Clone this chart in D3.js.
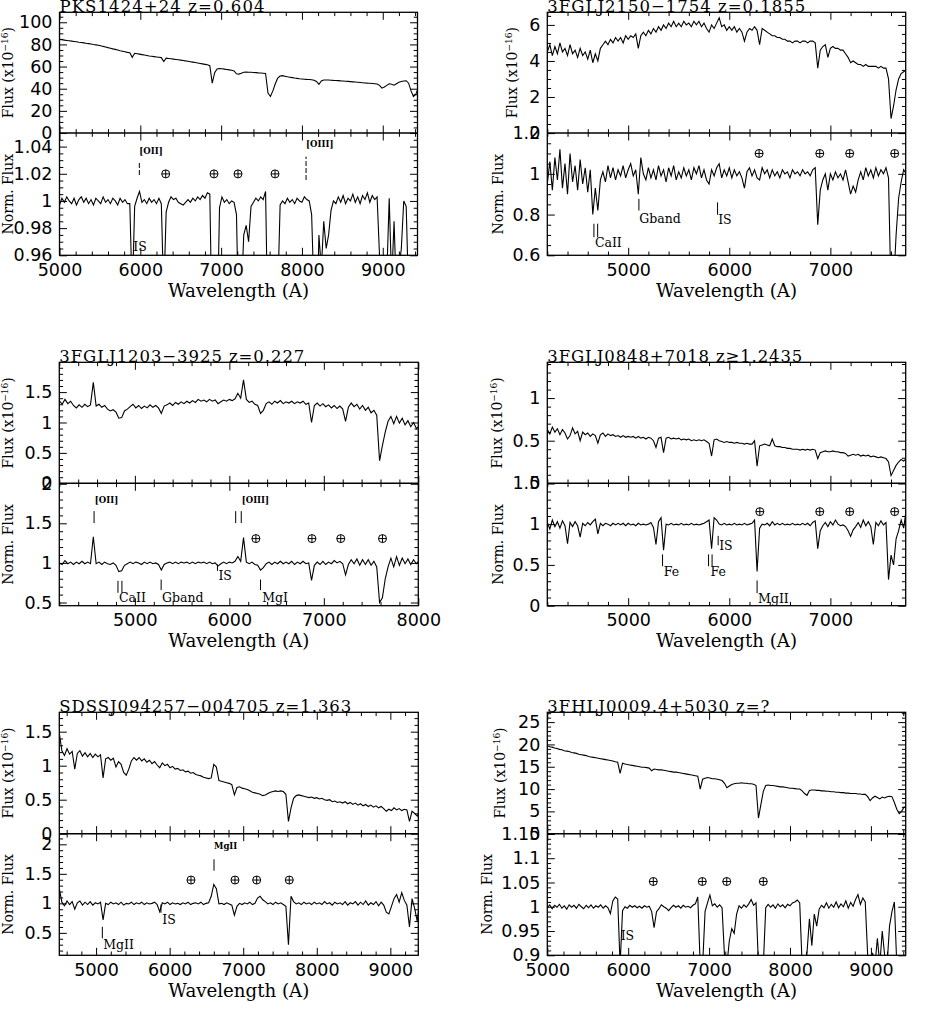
<!DOCTYPE html>
<html><head><meta charset="utf-8">
<script src="https://cdn.jsdelivr.net/npm/d3@7"></script>
<style>body{margin:0;background:#fff}svg{display:block}</style>
</head><body>
<svg id="chart" width="926" height="1010"></svg>
<script>
// ---------------- DATA ----------------
const p1Title = "PKS1424+24 z=0.604";
const p1Wave0 = 5000, p1Step = 30;
const p1Flux = [84.5,84.2,83.9,83.6,83.3,83.0,82.7,82.4,82.0,81.7,
81.4,81.0,80.7,80.3,79.9,79.6,79.2,78.8,78.2,77.7,
77.1,76.6,76.0,75.5,74.9,74.3,73.8,73.3,72.8,72.5,
68.3,72.0,71.6,71.2,70.8,70.4,70.0,69.6,69.3,69.0,
68.7,68.4,68.1,64.5,67.6,67.3,67.0,66.7,66.4,66.1,
65.8,65.5,65.1,64.8,64.4,64.0,63.6,63.2,62.8,62.4,
62.0,61.6,60.8,45.0,54.5,57.8,58.3,58.0,57.7,57.4,
57.0,56.6,56.0,53.5,53.2,54.0,54.8,55.0,54.9,54.8,
54.6,54.5,54.3,54.2,54.0,53.8,36.0,33.0,38.0,44.5,
49.5,51.5,51.8,51.3,50.8,50.4,50.0,49.6,49.3,49.0,
48.8,48.6,48.4,48.3,48.1,47.6,46.5,44.0,47.0,47.8,
47.9,47.8,47.7,47.5,47.4,47.3,47.1,47.0,46.8,46.6,
46.4,46.2,46.0,45.8,45.6,45.4,45.2,45.0,44.9,44.7,
44.5,44.2,43.0,40.5,41.5,43.0,44.5,44.0,43.2,44.5,
45.8,46.5,47.0,47.2,45.0,38.0,33.0,35.0,41.0];
const p1Norm = [0.997,1.002,0.999,1.003,1.000,0.998,1.002,0.997,1.001,1.003,
0.999,1.002,0.998,1.001,0.997,1.002,1.000,0.998,1.003,0.999,
1.001,0.998,1.002,1.000,0.997,1.002,0.999,1.001,0.998,0.998,
0.930,0.996,1.002,1.007,0.999,1.001,0.998,1.002,0.999,1.001,
0.998,1.002,0.998,0.930,0.992,0.999,1.003,1.001,1.002,0.999,
0.998,0.997,0.999,1.001,0.999,1.002,1.000,1.003,1.001,1.004,
1.002,1.006,1.005,0.900,0.900,0.900,0.995,1.003,0.999,1.001,
0.998,1.000,0.999,0.990,0.900,0.930,0.975,0.982,0.970,0.996,
0.999,1.002,1.000,1.003,1.001,1.007,0.900,0.900,0.900,0.900,
0.930,0.997,1.000,0.998,1.002,0.999,1.001,0.998,1.002,1.000,
0.999,1.003,1.001,1.000,0.990,0.930,0.900,0.975,0.950,0.985,
0.965,0.975,0.993,1.000,0.998,1.003,0.999,1.004,0.998,1.002,
1.000,1.005,0.999,1.003,0.998,1.004,1.001,1.006,0.999,1.004,
1.001,1.003,0.960,0.920,0.900,0.945,1.002,0.940,0.985,0.930,
0.950,0.965,1.000,0.996,0.930,0.900,0.900,0.900,0.900];
const p1Earth = [6314, 6912, 7209, 7667], p1EarthLevel = 1.0199;
const p1Marks = [
 {label:"[OII]", waves:[5988], y0:1.0191, y1:1.0282, lw:5988, ly:1.0346, small:true},
 {label:"[OIII]", waves:[8051], y0:1.0154, y1:1.0326, lw:8051, ly:1.0400, small:true},
 {label:"IS", waves:[], lw:5913, ly:0.963}];

const p2Title = "3FGLJ2150\u22121754 z=0.1855";
const p2Wave0 = 4200, p2Step = 25;
const p2Flux = [4.5,4.9,4.3,4.8,4.4,5.0,4.5,4.7,4.3,4.9,
4.4,4.6,4.2,4.7,4.3,4.5,4.1,4.6,3.9,4.4,
4.0,4.7,4.9,5.1,4.9,5.2,5.0,5.3,5.1,5.3,
5.0,5.4,5.2,5.4,5.3,5.5,4.7,5.4,5.6,5.4,
5.7,5.5,5.8,5.6,5.9,5.7,6.0,5.8,6.1,5.9,
6.2,5.9,6.1,5.9,6.2,6.0,6.1,5.9,6.2,6.0,
6.2,5.9,6.1,5.8,5.6,6.0,5.8,6.1,6.4,5.9,
6.0,5.7,5.9,5.7,5.9,5.6,5.8,5.6,5.1,5.6,
5.8,5.7,5.9,5.7,4.9,5.8,5.7,5.6,5.5,5.4,
5.4,5.3,5.3,5.2,5.2,5.1,5.1,5.0,5.1,5.1,
5.0,5.1,5.1,5.0,5.1,5.1,5.0,3.6,4.6,4.8,
4.9,4.2,4.7,4.8,4.7,4.7,4.6,4.6,4.4,4.2,
3.9,4.0,3.9,3.8,3.8,3.7,3.8,3.7,3.7,3.7,
3.7,3.6,3.7,3.6,3.6,3.0,0.8,1.5,2.4,3.0,
3.3,3.4,3.5];
const p2Norm = [0.95,1.06,0.92,1.08,0.97,1.12,0.93,1.05,0.90,1.10,
0.96,1.04,0.92,1.07,0.95,1.03,0.91,1.02,0.80,0.93,
0.82,0.97,1.01,0.96,1.04,0.98,1.03,0.97,1.02,0.99,
1.04,0.98,1.02,1.05,0.99,1.02,0.90,1.08,1.00,0.97,
1.03,0.98,1.02,0.97,1.04,0.99,1.02,0.96,1.03,0.99,
1.04,0.97,1.01,0.98,1.03,0.99,1.02,0.97,1.03,1.00,
1.04,0.98,1.02,0.97,0.95,1.02,0.99,1.03,1.05,0.98,
1.02,0.99,1.03,0.98,1.02,0.99,1.01,0.98,0.93,1.01,
1.03,0.99,1.02,0.98,0.97,1.03,1.00,1.02,0.98,1.02,
0.99,1.01,0.98,1.02,1.00,1.01,0.98,1.02,1.00,1.01,
0.99,1.02,1.00,1.01,0.99,1.02,1.03,0.75,0.92,0.97,
1.00,0.92,1.00,0.97,1.01,0.98,1.00,0.97,1.02,0.96,
0.90,0.94,0.91,0.97,1.01,0.97,1.03,0.99,1.02,0.98,
1.03,0.99,1.02,1.00,1.03,0.98,0.40,0.45,0.70,0.88,
0.96,1.02,1.00];
const p2Earth = [6295, 6895, 7191, 7636], p2EarthLevel = 1.10;
const p2Marks = [
 {label:"CaII", waves:[4661,4698], y0:0.689, y1:0.755, lw:4671, ly:0.642},
 {label:"Gband", waves:[5106], y0:0.820, y1:0.877, lw:5109, ly:0.761},
 {label:"IS", waves:[5884], y0:0.799, y1:0.860, lw:5890, ly:0.755}];

const p3Title = "3FGLJ1203\u22123925 z=0.227";
const p3Wave0 = 4200, p3Step = 30;
const p3Flux = [1.36,1.30,1.38,1.31,1.35,1.28,1.24,1.29,1.25,1.30,
1.26,1.29,1.66,1.27,1.30,1.25,1.28,1.22,1.19,1.21,
1.17,1.07,1.08,1.19,1.22,1.26,1.30,1.24,1.28,1.23,
1.27,1.24,1.29,1.25,1.28,1.24,1.15,1.27,1.29,1.32,
1.28,1.33,1.30,1.34,1.31,1.35,1.32,1.36,1.33,1.38,
1.35,1.37,1.34,1.38,1.35,1.37,1.31,1.34,1.37,1.35,
1.38,1.36,1.39,1.48,1.40,1.70,1.38,1.33,1.35,1.30,
1.28,1.15,1.20,1.31,1.34,1.30,1.35,1.32,1.36,1.31,
1.34,1.32,1.35,1.31,1.34,1.32,1.35,1.30,1.32,1.00,
1.28,1.32,1.27,1.31,1.26,1.29,1.24,1.28,1.23,1.27,
1.22,1.02,1.25,1.32,1.26,1.30,1.22,1.28,1.20,1.25,
1.16,1.20,1.12,0.37,0.62,0.84,1.02,1.10,0.98,1.10,
0.99,1.07,0.96,1.03,0.93,1.00,0.90,0.95];
const p3Norm = [1.00,0.98,1.03,0.99,1.01,0.98,1.01,0.99,1.02,0.99,
1.01,0.99,1.33,0.99,1.01,0.98,1.01,0.99,0.98,1.00,
0.97,0.89,0.90,0.97,0.99,1.01,0.99,1.01,1.00,0.98,
1.01,0.99,1.01,0.99,1.00,0.98,0.91,0.98,1.00,1.01,
0.99,1.01,0.99,1.01,1.00,1.01,0.99,1.01,0.99,1.01,
1.00,1.01,0.99,1.01,0.99,1.00,0.96,0.99,1.01,0.99,
1.01,1.00,1.02,1.08,1.02,1.32,1.01,0.99,1.01,0.98,
0.97,0.91,0.94,0.99,1.01,0.98,1.01,0.99,1.02,0.99,
1.01,0.99,1.02,0.98,1.01,0.99,1.02,0.99,1.00,0.78,
0.97,1.01,0.98,1.02,0.98,1.01,0.99,1.03,1.00,1.02,
0.99,0.85,0.98,1.04,0.99,1.05,0.97,1.04,0.98,1.04,
0.97,1.02,0.95,0.50,0.56,0.80,0.95,1.06,0.95,1.08,
0.97,1.06,0.99,1.05,0.98,1.04,0.99,1.03];
const p3Earth = [6281, 6874, 7179, 7621], p3EarthLevel = 1.307;
const p3Marks = [
 {label:"[OII]", waves:[4568], y0:1.503, y1:1.654, lw:4576, ly:1.755, small:true},
 {label:"[OIII]", waves:[6067,6126], y0:1.503, y1:1.654, lw:6131, ly:1.755, small:true},
 {label:"CaII", waves:[4821,4863], y0:0.623, y1:0.774, lw:4832, ly:0.509},
 {label:"Gband", waves:[5278], y0:0.657, y1:0.790, lw:5288, ly:0.509},
 {label:"IS", waves:[5874], y0:0.90, y1:0.98, lw:5884, ly:0.782},
 {label:"MgI", waves:[6330], y0:0.657, y1:0.790, lw:6347, ly:0.509}];

const p4Title = "3FGLJ0848+7018 z\u22651.2435";
const p4Wave0 = 4200, p4Step = 25;
const p4Flux = [0.63,0.58,0.66,0.60,0.64,0.57,0.63,0.59,0.52,0.56,
0.65,0.58,0.61,0.50,0.60,0.57,0.59,0.55,0.58,0.56,
0.47,0.57,0.59,0.55,0.58,0.56,0.57,0.55,0.56,0.54,
0.56,0.54,0.55,0.54,0.55,0.53,0.55,0.53,0.54,0.52,
0.54,0.53,0.50,0.42,0.53,0.54,0.36,0.53,0.54,0.52,
0.53,0.52,0.53,0.51,0.52,0.51,0.52,0.50,0.51,0.50,
0.51,0.50,0.51,0.49,0.47,0.32,0.51,0.52,0.50,0.49,
0.48,0.49,0.48,0.48,0.47,0.48,0.47,0.47,0.46,0.47,
0.46,0.46,0.50,0.20,0.44,0.45,0.46,0.45,0.44,0.52,
0.44,0.43,0.43,0.42,0.42,0.41,0.41,0.40,0.40,0.40,
0.39,0.40,0.39,0.40,0.39,0.40,0.39,0.29,0.36,0.37,
0.38,0.37,0.37,0.38,0.37,0.37,0.36,0.36,0.35,0.32,
0.33,0.34,0.33,0.34,0.32,0.33,0.32,0.33,0.31,0.32,
0.31,0.30,0.31,0.30,0.29,0.25,0.09,0.15,0.21,0.25,
0.28,0.26,0.29];
const p4Norm = [1.02,0.94,1.05,0.97,1.03,0.95,1.04,0.98,0.76,1.02,
0.97,1.03,0.98,0.84,1.01,0.98,1.02,0.99,1.03,1.06,
0.88,1.01,0.98,1.01,1.00,0.98,1.01,0.99,1.01,0.99,
1.01,0.98,1.01,0.99,1.00,0.98,1.01,0.99,1.00,0.99,
1.00,1.02,0.96,0.75,1.03,1.08,0.68,1.00,0.99,1.01,
0.99,1.00,0.99,1.01,0.99,1.00,0.99,1.01,0.99,1.00,
0.99,1.00,1.01,1.03,1.05,0.70,1.08,1.05,1.00,0.99,
1.01,0.99,1.00,0.99,1.01,0.99,1.00,0.99,1.01,0.99,
1.00,1.01,1.05,0.42,0.95,1.00,0.99,1.01,0.98,1.03,
0.99,1.01,0.99,1.01,0.99,1.00,0.99,1.01,0.99,1.00,
0.99,1.01,0.99,1.01,0.98,1.02,1.04,0.70,0.92,0.98,
1.02,0.97,1.03,0.99,1.05,1.00,0.98,0.99,0.97,0.92,
0.85,0.93,0.97,1.02,0.96,1.05,0.98,1.03,0.97,0.75,
1.02,0.98,1.04,0.99,1.02,0.32,0.62,0.50,0.82,0.92,
1.05,0.95,1.18];
const p4Earth = [6302, 6895, 7191, 7636], p4EarthLevel = 1.153;
const p4Marks = [
 {label:"Fe", waves:[5340], y0:0.484, y1:0.629, lw:5353, ly:0.368},
 {label:"Fe", waves:[5795,5830], y0:0.484, y1:0.629, lw:5815, ly:0.368},
 {label:"IS", waves:[5890], y0:0.741, y1:0.856, lw:5900, ly:0.682},
 {label:"MgII", waves:[6275], y0:0.154, y1:0.310, lw:6285, ly:0.03}];

const p5Title = "SDSSJ094257\u2212004705 z=1.363";
const p5Wave0 = 4500, p5Step = 35;
const p5Flux = [1.48,1.22,1.15,1.25,1.17,1.21,0.95,1.18,1.22,1.14,
1.19,1.13,1.18,1.12,1.17,1.13,1.16,0.82,1.10,1.12,
1.08,1.11,0.98,1.06,1.02,0.90,0.86,0.95,1.07,1.12,
1.08,1.12,1.07,1.10,1.05,1.08,1.03,1.06,1.01,0.97,
1.04,1.00,1.02,0.97,0.99,0.95,0.96,0.93,0.94,0.91,
0.92,0.89,0.90,0.87,0.86,0.85,0.83,0.82,0.81,0.82,
1.02,0.98,0.78,0.77,0.76,0.75,0.74,0.72,0.57,0.68,
0.69,0.67,0.66,0.65,0.63,0.61,0.60,0.59,0.58,0.56,
0.57,0.59,0.61,0.62,0.63,0.62,0.63,0.62,0.58,0.18,
0.38,0.52,0.56,0.57,0.56,0.55,0.54,0.53,0.54,0.52,
0.53,0.51,0.52,0.50,0.49,0.50,0.47,0.48,0.46,0.47,
0.45,0.47,0.44,0.46,0.43,0.45,0.42,0.44,0.41,0.43,
0.40,0.42,0.39,0.41,0.38,0.40,0.37,0.33,0.36,0.34,
0.38,0.35,0.37,0.34,0.36,0.35,0.18,0.33,0.30,0.26,
0.32];
const p5Norm = [1.25,1.02,0.96,1.04,0.98,1.03,0.90,1.01,1.04,0.97,
1.02,0.98,1.03,0.97,1.01,0.99,1.02,0.72,1.00,0.98,
1.02,0.99,1.01,0.98,1.02,0.97,1.00,0.99,1.02,0.98,
1.01,0.99,1.02,0.98,1.01,0.99,1.00,1.02,0.98,0.86,
1.01,0.99,1.02,0.98,1.01,0.99,1.00,0.98,1.01,0.99,
1.02,0.98,1.00,1.01,0.99,1.02,0.98,1.00,1.01,1.12,
1.32,1.25,0.99,1.00,0.98,1.01,0.99,0.97,0.80,0.95,
1.00,0.98,1.01,0.99,1.02,0.98,1.00,1.09,1.12,1.06,
1.03,0.99,1.01,0.98,1.02,0.99,1.01,0.98,0.95,0.30,
1.12,1.03,0.99,1.01,0.98,1.02,0.99,1.01,0.98,1.02,
0.99,1.01,0.98,1.03,0.99,1.01,0.97,1.02,0.99,1.01,
0.98,1.03,0.97,1.01,0.99,1.03,0.97,1.02,0.98,1.04,
0.97,1.01,0.98,1.03,0.96,1.02,0.97,0.85,0.82,0.95,
1.08,1.15,1.02,1.18,1.05,0.97,0.60,1.08,0.92,0.70,
1.02];
const p5Earth = [6290, 6888, 7183, 7626], p5EarthLevel = 1.395;
const p5Marks = [
 {label:"MgII", waves:[6603], y0:1.553, y1:1.746, lw:6603, ly:1.915, small:true},
 {label:"MgII", waves:[5085], y0:0.407, y1:0.603, lw:5098, ly:0.22},
 {label:"IS", waves:[5882], y0:0.84, y1:0.98, lw:5900, ly:0.644}];

const p6Title = "3FHLJ0009.4+5030 z=?";
const p6Wave0 = 5000, p6Step = 30;
const p6Flux = [19.7,19.5,19.4,19.2,19.1,18.9,18.8,18.6,18.5,18.4,
18.2,18.1,18.0,17.8,17.7,17.6,17.5,17.3,17.2,17.1,
17.0,16.9,16.8,16.7,16.6,16.5,16.4,16.3,16.1,16.0,
13.5,15.8,15.6,15.5,15.4,15.3,15.2,15.1,15.0,14.9,
14.9,14.8,14.7,14.1,14.5,14.4,14.3,14.3,14.2,14.1,
14.0,13.9,13.8,13.8,13.7,13.6,13.5,13.4,13.3,13.2,
13.1,13.0,12.9,10.0,12.2,12.4,12.6,12.5,12.3,12.3,
12.2,12.1,11.9,11.3,10.3,10.7,11.0,11.2,11.3,11.3,
11.4,11.3,11.3,11.2,11.2,11.1,10.8,3.5,6.5,9.5,
10.8,10.9,10.8,10.8,10.7,10.6,10.5,10.5,10.4,10.3,
10.2,10.2,10.1,10.0,10.0,9.6,9.0,8.6,9.7,9.8,
9.8,9.7,9.7,9.6,9.6,9.5,9.5,9.4,9.4,9.3,
9.3,9.2,9.2,9.1,9.1,9.0,9.0,9.0,8.9,8.9,
8.8,8.8,8.3,7.4,8.0,8.4,8.1,7.8,8.2,8.0,
8.3,8.4,8.3,7.0,5.5,4.5,5.0,6.0,5.8];
const p6Norm = [0.998,1.004,0.996,1.003,0.999,1.005,0.997,1.002,0.995,1.004,
0.999,1.003,0.997,1.005,1.000,0.996,1.003,0.998,1.004,0.997,
1.002,0.999,1.004,0.997,1.002,0.998,0.986,1.012,1.020,1.016,
0.880,0.992,1.000,0.997,1.003,0.999,1.002,0.998,1.001,0.997,
1.002,0.999,1.001,0.990,0.957,0.990,0.996,1.004,1.000,0.997,
0.992,0.998,1.003,0.999,1.002,0.997,1.003,0.999,1.001,0.998,
1.003,1.006,1.020,0.880,0.880,0.990,1.008,1.024,1.002,1.006,
0.999,1.004,0.998,0.900,0.880,0.930,0.955,0.945,0.985,1.002,
0.997,1.004,0.999,1.006,1.015,1.003,1.008,0.880,0.880,0.880,
0.998,1.005,0.999,1.004,0.997,1.006,1.000,1.004,0.998,1.005,
1.002,1.008,1.010,1.014,1.008,0.880,0.880,0.905,0.975,0.920,
0.985,0.960,0.995,1.003,0.998,1.008,0.997,1.005,0.999,1.010,
0.998,1.006,1.000,1.012,0.997,1.009,1.001,1.015,1.025,1.005,
1.018,1.010,0.900,0.880,0.905,0.880,0.935,0.880,0.950,0.900,
0.880,0.960,0.990,1.010,0.880,0.880,0.880,0.880,0.880];
const p6Earth = [6310, 6916, 7218, 7670], p6EarthLevel = 1.052;
const p6Marks = [{label:"IS", waves:[], lw:5907, ly:0.932}];

// axis ranges and tick steps
const p1Axes = {x:[5000,9430], top:[0,109], bot:[0.96,1.05], tMaj:20, tMin:5, bMaj:0.02, bMin:0.005};
const p2Axes = {x:[4200,7745], top:[0,6.7], bot:[0.6,1.2005], tMaj:2, tMin:0.5, bMaj:0.2, bMin:0.05};
const p3Axes = {x:[4200,8000], top:[0,1.99], bot:[0.46,2.005], tMaj:0.5, tMin:0.1, bMaj:0.5, bMin:0.1};
const p4Axes = {x:[4200,7745], top:[0,1.42], bot:[0,1.5005], tMaj:0.5, tMin:0.1, bMaj:0.5, bMin:0.1};
const p5Axes = {x:[4500,9380], top:[0,1.785], bot:[0.12,2.18], tMaj:0.5, tMin:0.1, bMaj:0.5, bMin:0.1};
const p6Axes = {x:[5000,9430], top:[0,27.2], bot:[0.9,1.1505], tMaj:5, tMin:1, bMaj:0.05, bMin:0.01};

// ---------------- LAYOUT ----------------
const layout = [
 {L:59.5,R:417.5,T:12.3,M:133,B:255.3, fx:13, nx:13, tw:205, dashed:true},
 {L:547.3,R:905.7,T:12.3,M:133,B:255.3, fx:516.7, nx:503, tw:258},
 {L:59.3,R:418.3,T:362.3,M:483.3,B:605.7, fx:13, nx:13, tw:245},
 {L:547.3,R:905.7,T:362.3,M:483.3,B:605.7, fx:501.7, nx:503.3, tw:255},
 {L:59.3,R:418.3,T:712.3,M:833.7,B:955.3, fx:13, nx:13, tw:292},
 {L:547.3,R:905.7,T:712.3,M:833.7,B:955.3, fx:505, nx:491.7, tw:222}
];
const panels = [
 {title:p1Title, w0:p1Wave0, dw:p1Step, flux:p1Flux, norm:p1Norm, earth:p1Earth, el:p1EarthLevel, marks:p1Marks, ax:p1Axes},
 {title:p2Title, w0:p2Wave0, dw:p2Step, flux:p2Flux, norm:p2Norm, earth:p2Earth, el:p2EarthLevel, marks:p2Marks, ax:p2Axes},
 {title:p3Title, w0:p3Wave0, dw:p3Step, flux:p3Flux, norm:p3Norm, earth:p3Earth, el:p3EarthLevel, marks:p3Marks, ax:p3Axes},
 {title:p4Title, w0:p4Wave0, dw:p4Step, flux:p4Flux, norm:p4Norm, earth:p4Earth, el:p4EarthLevel, marks:p4Marks, ax:p4Axes},
 {title:p5Title, w0:p5Wave0, dw:p5Step, flux:p5Flux, norm:p5Norm, earth:p5Earth, el:p5EarthLevel, marks:p5Marks, ax:p5Axes},
 {title:p6Title, w0:p6Wave0, dw:p6Step, flux:p6Flux, norm:p6Norm, earth:p6Earth, el:p6EarthLevel, marks:p6Marks, ax:p6Axes}
];

const svg = d3.select("#chart");
const fmt = d => String(+d.toFixed(4));
function ticksIn(dom, step){
  const eps = step*1e-4, out=[];
  for(let k=Math.ceil((dom[0]-eps)/step); k<=Math.floor((dom[1]+eps)/step); k++) out.push(+(k*step).toFixed(6));
  return out;
}
function minorsIn(dom, step, maj){
  return ticksIn(dom, step).filter(v => !maj.some(m => Math.abs(m-v) < step*1e-3));
}
const MAJ = 7.5, MIN = 3.8;
function addAxis(g, fn, scale, major, minor, tx, ty, labels, pad){
  const a1 = g.append("g").attr("transform",`translate(${tx},${ty})`)
    .call(fn(scale).tickValues(minor).tickSize(-MIN).tickSizeOuter(0).tickFormat(""));
  const a2 = g.append("g").attr("transform",`translate(${tx},${ty})`)
    .call(fn(scale).tickValues(major).tickSize(-MAJ).tickSizeOuter(0).tickPadding(pad||0).tickFormat(labels?fmt:""));
  [a1,a2].forEach(a => { a.select(".domain").remove(); a.attr("font-family",null).attr("font-size",null).attr("color","#000");
    a.selectAll("line").attr("stroke-width",1); });
  a2.selectAll("text").attr("font-family","DejaVu Sans").attr("font-size",17.5).attr("fill","#000");
}

panels.forEach((p, idx) => {
  const lay = layout[idx];
  const g = svg.append("g");
  const x = d3.scaleLinear().domain(p.ax.x).range([lay.L, lay.R]);
  const yT = d3.scaleLinear().domain(p.ax.top).range([lay.M, lay.T]);
  const yB = d3.scaleLinear().domain(p.ax.bot).range([lay.B, lay.M]);

  const cidT = "clipT"+idx, cidB = "clipB"+idx;
  const defs = svg.append("defs");
  defs.append("clipPath").attr("id",cidT).append("rect").attr("x",lay.L).attr("y",lay.T).attr("width",lay.R-lay.L).attr("height",lay.M-lay.T);
  defs.append("clipPath").attr("id",cidB).append("rect").attr("x",lay.L).attr("y",lay.M).attr("width",lay.R-lay.L).attr("height",lay.B-lay.M);

  const pts = vals => vals.map((v,i) => [p.w0 + i*p.dw, v]);
  g.append("path").attr("clip-path",`url(#${cidT})`).datum(pts(p.flux))
    .attr("d", d3.line().x(d=>x(d[0])).y(d=>yT(d[1])))
    .attr("fill","none").attr("stroke","#000").attr("stroke-width",1.1);
  g.append("path").attr("clip-path",`url(#${cidB})`).datum(pts(p.norm))
    .attr("d", d3.line().x(d=>x(d[0])).y(d=>yB(d[1])))
    .attr("fill","none").attr("stroke","#000").attr("stroke-width",1.1);

  // frame
  g.append("rect").attr("x",lay.L).attr("y",lay.T).attr("width",lay.R-lay.L).attr("height",lay.B-lay.T)
    .attr("fill","none").attr("stroke","#000").attr("stroke-width",1.3);
  g.append("line").attr("x1",lay.L).attr("x2",lay.R).attr("y1",lay.M).attr("y2",lay.M).attr("stroke","#000").attr("stroke-width",1.6);

  // axes
  const xMaj = ticksIn(p.ax.x, 1000), xMin = minorsIn(p.ax.x, 200, xMaj);
  const tMaj = ticksIn(p.ax.top, p.ax.tMaj), tMin = minorsIn(p.ax.top, p.ax.tMin, tMaj);
  const bMaj = ticksIn(p.ax.bot, p.ax.bMaj), bMin = minorsIn(p.ax.bot, p.ax.bMin, bMaj);
  addAxis(g, d3.axisTop, x, xMaj, xMin, 0, lay.T, false);
  addAxis(g, d3.axisBottom, x, xMaj, xMin, 0, lay.M, false);
  addAxis(g, d3.axisTop, x, xMaj, xMin, 0, lay.M, false);
  addAxis(g, d3.axisBottom, x, xMaj, xMin, 0, lay.B, true, 8.2);
  addAxis(g, d3.axisLeft, yT, tMaj, tMin, lay.L, 0, true, 7);
  addAxis(g, d3.axisRight, yT, tMaj, tMin, lay.R, 0, false);
  addAxis(g, d3.axisLeft, yB, bMaj, bMin, lay.L, 0, true, 7);
  addAxis(g, d3.axisRight, yB, bMaj, bMin, lay.R, 0, false);

  // title
  g.append("text").attr("x",lay.L).attr("y",lay.T-0.5).text(p.title)
    .attr("font-family","DejaVu Serif").attr("font-size",16.5).attr("fill","#000")
    .attr("textLength",lay.tw).attr("lengthAdjust","spacing");
  // x label
  g.append("text").attr("x",(lay.L+lay.R)/2).attr("y",lay.B+41.7).attr("text-anchor","middle")
    .attr("font-family","DejaVu Serif").attr("font-size",18.2).attr("fill","#000").text("Wavelength (A)");
  // y labels
  const fl = g.append("text").attr("transform",`translate(${lay.fx},${(lay.T+lay.M)/2}) rotate(-90)`)
    .attr("text-anchor","middle").attr("font-family","DejaVu Serif").attr("font-size",14).attr("fill","#000");
  fl.append("tspan").text("Flux (x10");
  fl.append("tspan").attr("dy",-5).attr("font-size",9).text("\u221216");
  fl.append("tspan").attr("dy",5).text(")");
  g.append("text").attr("transform",`translate(${lay.nx},${(lay.M+lay.B)/2}) rotate(-90)`)
    .attr("text-anchor","middle").attr("font-family","DejaVu Serif").attr("font-size",14).attr("fill","#000").text("Norm. Flux");

  // earth symbols
  p.earth.forEach(w => {
    const cx = x(w), cy = yB(p.el);
    g.append("circle").attr("cx",cx).attr("cy",cy).attr("r",4).attr("fill","none").attr("stroke","#000").attr("stroke-width",1);
    g.append("line").attr("x1",cx-4).attr("x2",cx+4).attr("y1",cy).attr("y2",cy).attr("stroke","#000").attr("stroke-width",1);
    g.append("line").attr("x1",cx).attr("x2",cx).attr("y1",cy-4).attr("y2",cy+4).attr("stroke","#000").attr("stroke-width",1);
  });
  // line identifications
  p.marks.forEach(m => {
    m.waves.forEach(w => {
      g.append("line").attr("x1",x(w)).attr("x2",x(w)).attr("y1",yB(m.y0)).attr("y2",yB(m.y1))
        .attr("stroke","#000").attr("stroke-width",1).attr("stroke-dasharray", lay.dashed ? "5,2" : null);
    });
    g.append("text").attr("x",x(m.lw)).attr("y",yB(m.ly)).text(m.label)
      .attr("font-family","DejaVu Serif").attr("font-size", m.small ? 8.5 : 12.5)
      .attr("font-weight", m.small ? "bold" : "normal").attr("fill","#000");
  });
});
</script>
</body></html>
